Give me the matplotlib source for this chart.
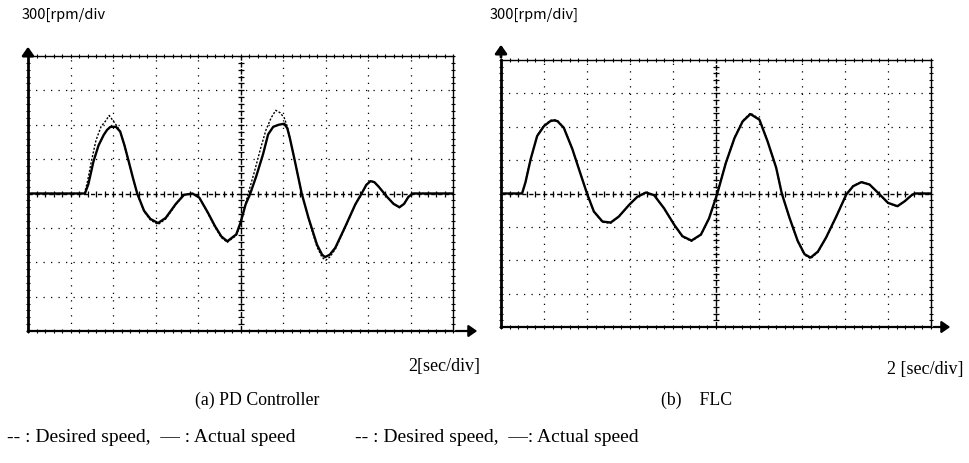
import numpy as np
import matplotlib
matplotlib.use("Agg")
import matplotlib.pyplot as plt
from matplotlib.patches import FancyArrowPatch

# ---------------- data (read in divisions; 2 s/div, 300 rpm/div) ----------------
pd_t_act = [0, 1.34, 1.42, 1.54, 1.66, 1.78, 1.86, 1.94, 2.07, 2.17, 2.27, 2.37, 2.47, 2.57, 2.73, 2.88,
            3.06, 3.24, 3.48, 3.67, 3.87, 4.03, 4.23, 4.4, 4.55, 4.69, 4.9, 5.0, 5.12, 5.23,
            5.37, 5.53, 5.65, 5.77, 5.9, 6.03, 6.1, 6.16, 6.28, 6.44, 6.6, 6.8, 6.92, 6.99,
            7.1, 7.23, 7.47, 7.7, 7.85, 7.96, 8.06, 8.15, 8.25, 8.45, 8.6, 8.74, 8.85, 8.95, 9.05, 10.0]
pd_v_act = [0, 0, 0.27, 0.93, 1.4, 1.7, 1.85, 1.94, 1.94, 1.8, 1.4, 0.93, 0.45, 0.0, -0.5, -0.74,
            -0.86, -0.71, -0.3, -0.04, 0.0, -0.12, -0.55, -0.95, -1.25, -1.39, -1.19, -0.85, -0.32, 0.0,
            0.5, 1.14, 1.72, 1.94, 2.0, 2.03, 1.9, 1.62, 0.94, 0.0, -0.71, -1.49, -1.78, -1.85,
            -1.78, -1.58, -0.95, -0.32, 0.0, 0.25, 0.36, 0.33, 0.2, -0.1, -0.3, -0.4, -0.3, -0.1, 0.0, 0.0]

pd_t_des = [0, 1.33, 1.4, 1.49, 1.6, 1.72, 1.82, 1.91, 2.0, 2.1, 2.17, 2.27, 2.37, 2.47, 2.57, 2.73, 2.88,
            3.06, 3.24, 3.48, 3.67, 3.87, 4.03, 4.23, 4.4, 4.55, 4.69, 4.9, 5.0, 5.1, 5.18,
            5.32, 5.47, 5.6, 5.72, 5.83, 5.93, 6.03, 6.1, 6.16, 6.28, 6.44, 6.6, 6.8, 6.92, 7.01,
            7.1, 7.23, 7.47, 7.7, 7.85, 7.96, 8.06, 8.15, 8.25, 8.45, 8.6, 8.74, 8.85, 8.95, 9.05, 10.0]
pd_v_des = [0, 0, 0.35, 0.93, 1.55, 1.95, 2.1, 2.27, 2.12, 1.95, 1.8, 1.4, 0.93, 0.45, 0.0, -0.52, -0.77,
            -0.9, -0.74, -0.32, -0.04, 0.0, -0.12, -0.57, -0.98, -1.28, -1.42, -1.22, -0.9, -0.4, 0.0,
            0.6, 1.3, 1.85, 2.2, 2.42, 2.35, 2.2, 1.95, 1.62, 0.94, 0.0, -0.74, -1.55, -1.86, -1.94,
            -1.85, -1.62, -0.97, -0.33, 0.0, 0.25, 0.37, 0.33, 0.2, -0.1, -0.3, -0.41, -0.3, -0.1, 0.0, 0.0]

flc_t_act = [0, 0.49, 0.57, 0.69, 0.84, 1.0, 1.15, 1.23, 1.31, 1.46, 1.66, 1.81, 2.0, 2.16, 2.36, 2.55,
             2.74, 2.98, 3.17, 3.37, 3.56, 3.79, 4.03, 4.22, 4.43, 4.65, 4.84, 5.03,
             5.23, 5.43, 5.62, 5.8, 6.01, 6.2, 6.4, 6.53, 6.71, 6.9, 7.06, 7.2,
             7.37, 7.56, 7.8, 8.03, 8.19, 8.38, 8.57, 8.77, 9.0, 9.22, 9.39, 9.55, 9.62, 10.0]
flc_v_act = [0, 0, 0.34, 1.03, 1.72, 2.02, 2.17, 2.19, 2.17, 1.97, 1.33, 0.74, 0.0, -0.54, -0.84, -0.87,
             -0.69, -0.34, -0.1, 0.03, -0.05, -0.44, -0.94, -1.28, -1.41, -1.23, -0.74, 0.0,
             0.92, 1.66, 2.16, 2.38, 2.21, 1.56, 0.77, 0.0, -0.73, -1.42, -1.82, -1.92,
             -1.74, -1.32, -0.68, -0.03, 0.22, 0.34, 0.27, 0.02, -0.28, -0.38, -0.23, -0.05, 0.0, 0.0]

flc_t_des = [0, 0.49, 0.57, 0.69, 0.84, 1.0, 1.15, 1.23, 1.31, 1.46, 1.66, 1.81, 2.0, 2.16, 2.36, 2.55,
             2.74, 2.98, 3.17, 3.37, 3.56, 3.79, 4.03, 4.22, 4.43, 4.65, 4.84, 5.03,
             5.23, 5.43, 5.62, 5.8, 6.01, 6.2, 6.4, 6.53, 6.71, 6.9, 7.06, 7.2,
             7.37, 7.56, 7.8, 8.03, 8.19, 8.38, 8.57, 8.77, 9.0, 9.22, 9.39, 9.55, 9.62, 10.0]
flc_v_des = [0, 0, 0.36, 1.05, 1.74, 2.04, 2.19, 2.21, 2.19, 1.98, 1.33, 0.74, 0.0, -0.55, -0.86, -0.89,
             -0.7, -0.34, -0.1, 0.04, -0.05, -0.45, -0.95, -1.3, -1.43, -1.24, -0.74, 0.0,
             0.93, 1.68, 2.18, 2.41, 2.23, 1.57, 0.77, 0.0, -0.74, -1.44, -1.84, -1.95,
             -1.76, -1.33, -0.68, -0.03, 0.23, 0.35, 0.27, 0.02, -0.29, -0.39, -0.23, -0.05, 0.0, 0.0]

SEC_PER_DIV = 2.0
RPM_PER_DIV = 300.0

y_units = ["300[rpm/div", "300[rpm/div]"]
x_units = ["2[sec/div]", "2 [sec/div]"]
captions = ["(a) PD Controller", "(b)    FLC"]
legends = ["-- : Desired speed,  \u2014 : Actual speed", "-- : Desired speed,  \u2014: Actual speed"]

fig = plt.figure(figsize=(9.70, 4.64), dpi=100)
W, H = 970.0, 464.0

def fx(px):
    return px / W

def fy(py):
    return 1 - py / H

boxes = [(28, 57, 453, 332), (501, 61, 931, 328)]
arrows = [(45, 480), (43, 953)]

datasets = [
    (pd_t_des, pd_v_des, pd_t_act, pd_v_act),
    (flc_t_des, flc_v_des, flc_t_act, flc_v_act),
]

serif = "Liberation Serif"

for i, (l, t, r, b) in enumerate(boxes):
    ax = fig.add_axes([fx(l), fy(b), fx(r - l), fy(t) - fy(b)])
    ax.set_xlim(0, 10 * SEC_PER_DIV)
    ax.set_ylim(-4 * RPM_PER_DIV, 4 * RPM_PER_DIV)
    ax.set_xticks([]); ax.set_yticks([])
    for s in ax.spines.values():
        s.set_linewidth(1.0)
        s.set_color("black")
    ax.spines["left"].set_linewidth(2.0)
    ax.spines["bottom"].set_linewidth(1.6)

    # dotted grid
    for k in range(1, 10):
        if k == 5:
            continue
        ax.axvline(k * SEC_PER_DIV, color="black", lw=0.9, ls=(0, (1, 5)), zorder=1)
    for k in range(-3, 4):
        if k == 0:
            continue
        ax.axhline(k * RPM_PER_DIV, color="black", lw=0.9, ls=(0, (1, 5)), zorder=1)
    # center cross lines
    ax.axvline(5 * SEC_PER_DIV, color="black", lw=1.0, ls=(0, (4, 1)), zorder=1)
    ax.axhline(0, color="black", lw=1.0, ls=(0, (3, 2)), zorder=1)
    # minor ticks along frame and center lines (5 per division)
    xm = np.arange(0, 10 * SEC_PER_DIV + 1e-9, SEC_PER_DIV / 5)
    ym = np.arange(-4 * RPM_PER_DIV, 4 * RPM_PER_DIV + 1e-9, RPM_PER_DIV / 5)
    ax.plot(xm, np.zeros_like(xm), ls="none", marker="|", ms=5, mew=0.9, color="black", zorder=2)
    ax.plot(np.full_like(ym, 5 * SEC_PER_DIV), ym, ls="none", marker="_", ms=5, mew=0.9, color="black", zorder=2)
    ax.plot(xm, np.full_like(xm, 4 * RPM_PER_DIV), ls="none", marker="|", ms=3, mew=0.8, color="black", zorder=2, clip_on=False)
    ax.plot(xm, np.full_like(xm, -4 * RPM_PER_DIV), ls="none", marker="|", ms=3, mew=0.8, color="black", zorder=2, clip_on=False)
    ax.plot(np.zeros_like(ym), ym, ls="none", marker="_", ms=3, mew=0.8, color="black", zorder=2, clip_on=False)
    ax.plot(np.full_like(ym, 10 * SEC_PER_DIV), ym, ls="none", marker="_", ms=3, mew=0.8, color="black", zorder=2, clip_on=False)

    td, vd, ta, va = datasets[i]
    ax.plot(np.array(td) * SEC_PER_DIV, np.array(vd) * RPM_PER_DIV, color="black", lw=1.0,
            ls=(0, (1.5, 1.2)), zorder=3)
    ax.plot(np.array(ta) * SEC_PER_DIV, np.array(va) * RPM_PER_DIV, color="black", lw=1.7,
            zorder=4, solid_joinstyle="round")

    # axis arrows
    ytip, xtip = arrows[i]
    fig.add_artist(FancyArrowPatch(
        (fx(l), fy(t)), (fx(l), fy(ytip)), transform=fig.transFigure,
        arrowstyle="-|>,head_length=5,head_width=3.5", mutation_scale=1, lw=2.0, color="black"))
    fig.add_artist(FancyArrowPatch(
        (fx(r), fy(b)), (fx(xtip), fy(b)), transform=fig.transFigure,
        arrowstyle="-|>,head_length=5,head_width=3.5", mutation_scale=1, lw=1.6, color="black"))

# texts
fig.text(fx(22), fy(15), y_units[0], family="Noto Sans CJK KR", fontsize=10.5, va="center", ha="left")
fig.text(fx(490), fy(15), y_units[1], family="Noto Sans CJK KR", fontsize=10.5, va="center", ha="left")
fig.text(fx(480), fy(367), x_units[0], family=serif, fontsize=13, va="center", ha="right")
fig.text(fx(964), fy(370), x_units[1], family=serif, fontsize=13, va="center", ha="right")
fig.text(fx(257), fy(400), captions[0], family=serif, fontsize=12.8, va="center", ha="center")
fig.text(fx(697), fy(400), captions[1], family=serif, fontsize=12.8, va="center", ha="center")
fig.text(fx(7), fy(438), legends[0], family=serif, fontsize=14, va="center", ha="left")
fig.text(fx(355), fy(438), legends[1], family=serif, fontsize=14, va="center", ha="left")

fig.savefig("out.png", dpi=100)
